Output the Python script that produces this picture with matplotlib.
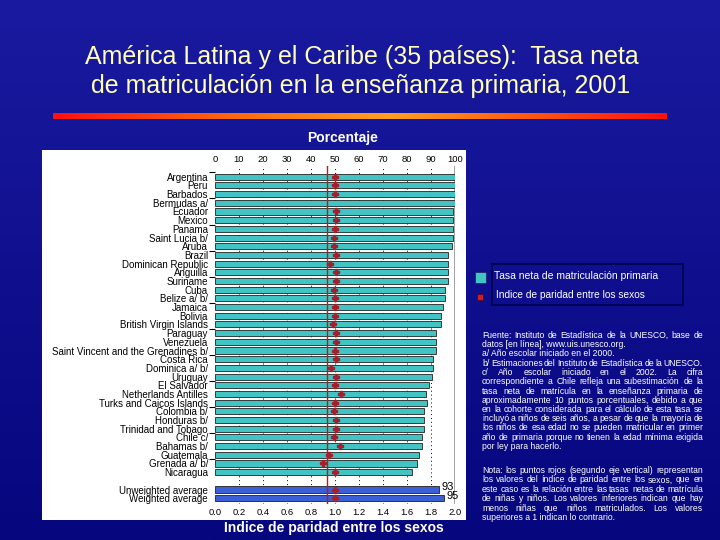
import numpy as np
import matplotlib
matplotlib.use("Agg")
import matplotlib.pyplot as plt
from matplotlib.patches import Rectangle
from matplotlib.colors import LinearSegmentedColormap

# ---------------- data ----------------
countries = [
    "Argentina", "Peru", "Barbados", "Bermudas a/", "Ecuador", "Mexico", "Panama",
    "Saint Lucia b/", "Aruba", "Brazil", "Dominican Republic", "Anguilla", "Suriname",
    "Cuba", "Belize a/ b/", "Jamaica", "Bolivia", "British Virgin Islands", "Paraguay",
    "Venezuela", "Saint Vincent and the Grenadines b/", "Costa Rica", "Dominica a/ b/",
    "Uruguay", "El Salvador", "Netherlands Antilles", "Turks and Caicos Islands",
    "Colombia b/", "Honduras b/", "Trinidad and Tobago", "Chile c/", "Bahamas b/",
    "Guatemala", "Grenada a/ b/", "Nicaragua",
]
enrolment = [100, 100, 100, 100, 99.3, 99.3, 99.3, 99.3, 98.6, 97.0, 97.0, 96.9, 96.9,
             95.9, 95.9, 95.1, 94.2, 94.2, 92.2, 92.2, 92.2, 91.0, 91.0, 90.4, 89.1,
             88.0, 88.2, 87.2, 87.2, 87.2, 86.1, 86.1, 85.1, 84.0, 82.2]
parity = [1.00, 1.00, 1.00, np.nan, 1.01, 1.01, 1.00, 0.99, 0.99, 1.01, 0.96, 1.01, 1.01,
          0.99, 1.00, 1.00, 1.00, 0.98, 1.01, 1.01, 1.00, 1.01, 0.97, 1.01, 1.00,
          1.05, 1.00, 0.99, 1.01, 1.01, 0.99, 1.04, 0.95, 0.90, 1.00]
avg_names = ["Unweighted average", "Weighted average"]
avg_enrolment = [93.3, 95.4]
avg_parity = [1.00, 1.00]
pct_ticks = [0, 10, 20, 30, 40, 50, 60, 70, 80, 90, 100]
parity_ticks = [0.0, 0.2, 0.4, 0.6, 0.8, 1.0, 1.2, 1.4, 1.6, 1.8, 2.0]
parity_ref = 0.93

title1 = "América Latina y el Caribe (35 países):  Tasa neta"
title2 = "de matriculación en la enseñanza primaria, 2001"
top_label = "Porcentaje"
bottom_label = "Indice de paridad entre los sexos"
legend_labels = ["Tasa neta de matriculación primaria", "Indice de paridad entre los sexos"]
source_lines = [
    "Fuente: Instituto de Estadística de la UNESCO, base de",
    "datos [en línea], www.uis.unesco.org.",
    "a/ Año escolar iniciado en el 2000.",
    "b/ Estimaciones del Instituto de Estadística de la UNESCO.",
    "c/ Año escolar iniciado en el 2002. La cifra",
    "correspondiente a Chile refleja una subestimación de la",
    "tasa neta de matrícula en la enseñanza primaria de",
    "aproximadamente 10 puntos porcentuales, debido a que",
    "en la cohorte considerada para el cálculo de esta tasa se",
    "incluyó a niños de seis años, a pesar de que la mayoría de",
    "los niños de esa edad no se pueden matricular en primer",
    "año de primaria porque no tienen la edad mínima exigida",
    "por ley para hacerlo.",
]
source_just = [True, False, False, True, True, True, True, True, True, True, True, True, False]
note_lines = [
    "Nota: los puntos rojos (segundo eje vertical) representan",
    "los valores del índice de paridad entre los sexos, que en",
    "este caso es la relación entre las tasas netas de matrícula",
    "de niñas y niños.  Los valores inferiores indican que hay",
    "menos niñas que niños matriculados.  Los valores",
    "superiores a 1 indican lo contrario.",
]
note_just = [True, True, True, True, True, False]

# ---------------- styles ----------------
FONT = "Liberation Sans"
plt.rcParams["font.family"] = [FONT, "DejaVu Sans"]
W, H = 720, 540
TEAL = "#42C4C4"
BLUE = "#3A5FD6"
MARK = "#A3202C"
WHITE_TXT = "#FFFFFF"
TITLE_C = "#FFFFB8"

fig = plt.figure(figsize=(7.2, 5.4), dpi=100)

# background axes in pixel coordinates
bg = fig.add_axes([0, 0, 1, 1], zorder=-5)
bg_cmap = LinearSegmentedColormap.from_list("bg", ["#1a1aa0", "#06067e"])
bg.imshow(np.linspace(0, 1, 256)[:, None], cmap=bg_cmap, aspect="auto",
          extent=[0, W, H, 0], interpolation="bilinear")
grad_cmap = LinearSegmentedColormap.from_list(
    "gl", [(0.0, "#ff1010"), (0.3, "#ff6a10"), (0.55, "#ffa020"), (0.8, "#ff5010"), (1.0, "#ff1010")])
bg.imshow(np.linspace(0, 1, 512)[None, :], cmap=grad_cmap, aspect="auto",
          extent=[53, 667, 119, 113], interpolation="bilinear")
bg.set_xlim(0, W)
bg.set_ylim(H, 0)
bg.axis("off")

# white plot panel
bg.add_patch(Rectangle((42, 150), 466 - 42, 520 - 150, facecolor="white", edgecolor="none"))

# titles
bg.text(362, 64, title1, ha="center", va="baseline", color=TITLE_C, fontsize=18)
bg.text(361, 93, title2, ha="center", va="baseline", color=TITLE_C, fontsize=18)
bg.text(343, 138, top_label, ha="center", va="center", color=WHITE_TXT, fontsize=10,
        fontweight="bold")
bg.text(334, 528, bottom_label, ha="center", va="center", color=WHITE_TXT, fontsize=10,
        fontweight="bold")

# legend
bg.add_patch(Rectangle((492, 264), 683 - 492, 305 - 264, facecolor="none",
                       edgecolor="#00004e", linewidth=1.2))
bg.add_patch(Rectangle((475, 272), 11, 11, facecolor=TEAL, edgecolor="#1a1a60", linewidth=0.5))
bg.plot([480], [297], marker="s", ms=4, color="#c8202a", mec="#600010", mew=0.6, ls="none")
bg.text(494, 276, legend_labels[0], ha="left", va="center", color=WHITE_TXT, fontsize=7.5)
bg.text(496, 295, legend_labels[1], ha="left", va="center", color=WHITE_TXT, fontsize=7.3)

# justified paragraphs
renderer = fig.canvas.get_renderer()


def paragraph(lines, flags, x0, x1, y0, dy, fs):
    for i, (line, just) in enumerate(zip(lines, flags)):
        y = y0 + i * dy
        if not just:
            bg.text(x0, y, line, ha="left", va="baseline", color=WHITE_TXT, fontsize=fs)
            continue
        words = line.split()
        ts = [bg.text(x0, y, w, ha="left", va="baseline", color=WHITE_TXT, fontsize=fs)
              for w in words]
        widths = [t.get_window_extent(renderer).width for t in ts]
        gap = (x1 - x0 - sum(widths)) / max(len(words) - 1, 1)
        x = x0
        for t, w in zip(ts, widths):
            t.set_x(x)
            x += w + gap


paragraph(source_lines, source_just, 482, 703, 338, 9.25, 6.2)
paragraph(note_lines, note_just, 482, 703, 473, 9.4, 6.2)

# ---------------- main chart ----------------
n = len(countries)
pos = np.arange(n)
avg_pos = np.array([n + 1, n + 2])
all_pos = np.concatenate([pos, avg_pos])
all_names = countries + avg_names

top_px, bot_px = 166.3, 504.3
ax = fig.add_axes([215 / W, 1 - bot_px / H, 240 / W, (bot_px - top_px) / H], zorder=1)
ax.patch.set_alpha(0)
ax2 = ax.twiny()
ax2.patch.set_alpha(0)

for t in pct_ticks[1:-1]:
    ax.axvline(t, color="black", lw=0.7, ls=(0, (1, 3)), zorder=1)
ax.axvline(pct_ticks[-1], color="#9a9a9a", lw=1.3, zorder=1)

ax.barh(pos, enrolment, height=0.7, color=TEAL, edgecolor="#222222", linewidth=0.6, zorder=3)
ax.barh(avg_pos, avg_enrolment, height=0.7, color=BLUE, edgecolor="#222222", linewidth=0.6,
        zorder=3)
for v, p in zip(avg_enrolment, avg_pos):
    ax.text(v + 1.2, p - 0.25, f"{round(v)}", ha="left", va="center", fontsize=8,
            color="black", zorder=6)

ax.set_xlim(0, 100)
ax.set_ylim(37.7, -1.2)
ax.xaxis.tick_top()
ax.set_xticks(pct_ticks)
ax.set_xticklabels([str(t) for t in pct_ticks])
ax.tick_params(axis="x", length=0, pad=1.5, labelsize=6.8, colors="black")
ax.set_yticks(all_pos)
ax.set_yticklabels(all_names)
ax.tick_params(axis="y", which="major", length=0, pad=5, labelsize=7.0)
ax.set_yticks(np.arange(-0.5, n, 3), minor=True)
ax.tick_params(axis="y", which="minor", length=4, width=0.8, color="black")
for s in ax.spines.values():
    s.set_visible(False)

ax2.set_xlim(0, 2)
ax2.xaxis.tick_bottom()
ax2.set_xticks(parity_ticks)
ax2.set_xticklabels([f"{t:.1f}" for t in parity_ticks])
ax2.tick_params(axis="x", length=0, pad=2.5, labelsize=6.8, colors="black")
for s in ax2.spines.values():
    s.set_visible(False)
ax2.axvline(parity_ref, color="#d01010", lw=1.0, zorder=2)
ax2.plot(parity, pos, ls="none", marker="P", ms=4.2, color=MARK, mec=MARK, zorder=5)
ax2.plot(avg_parity, avg_pos, ls="none", marker="P", ms=4.2, color=MARK, mec=MARK, zorder=5)
ax2.set_ylim(37.7, -1.2)

fig.savefig("out.png", dpi=100)
